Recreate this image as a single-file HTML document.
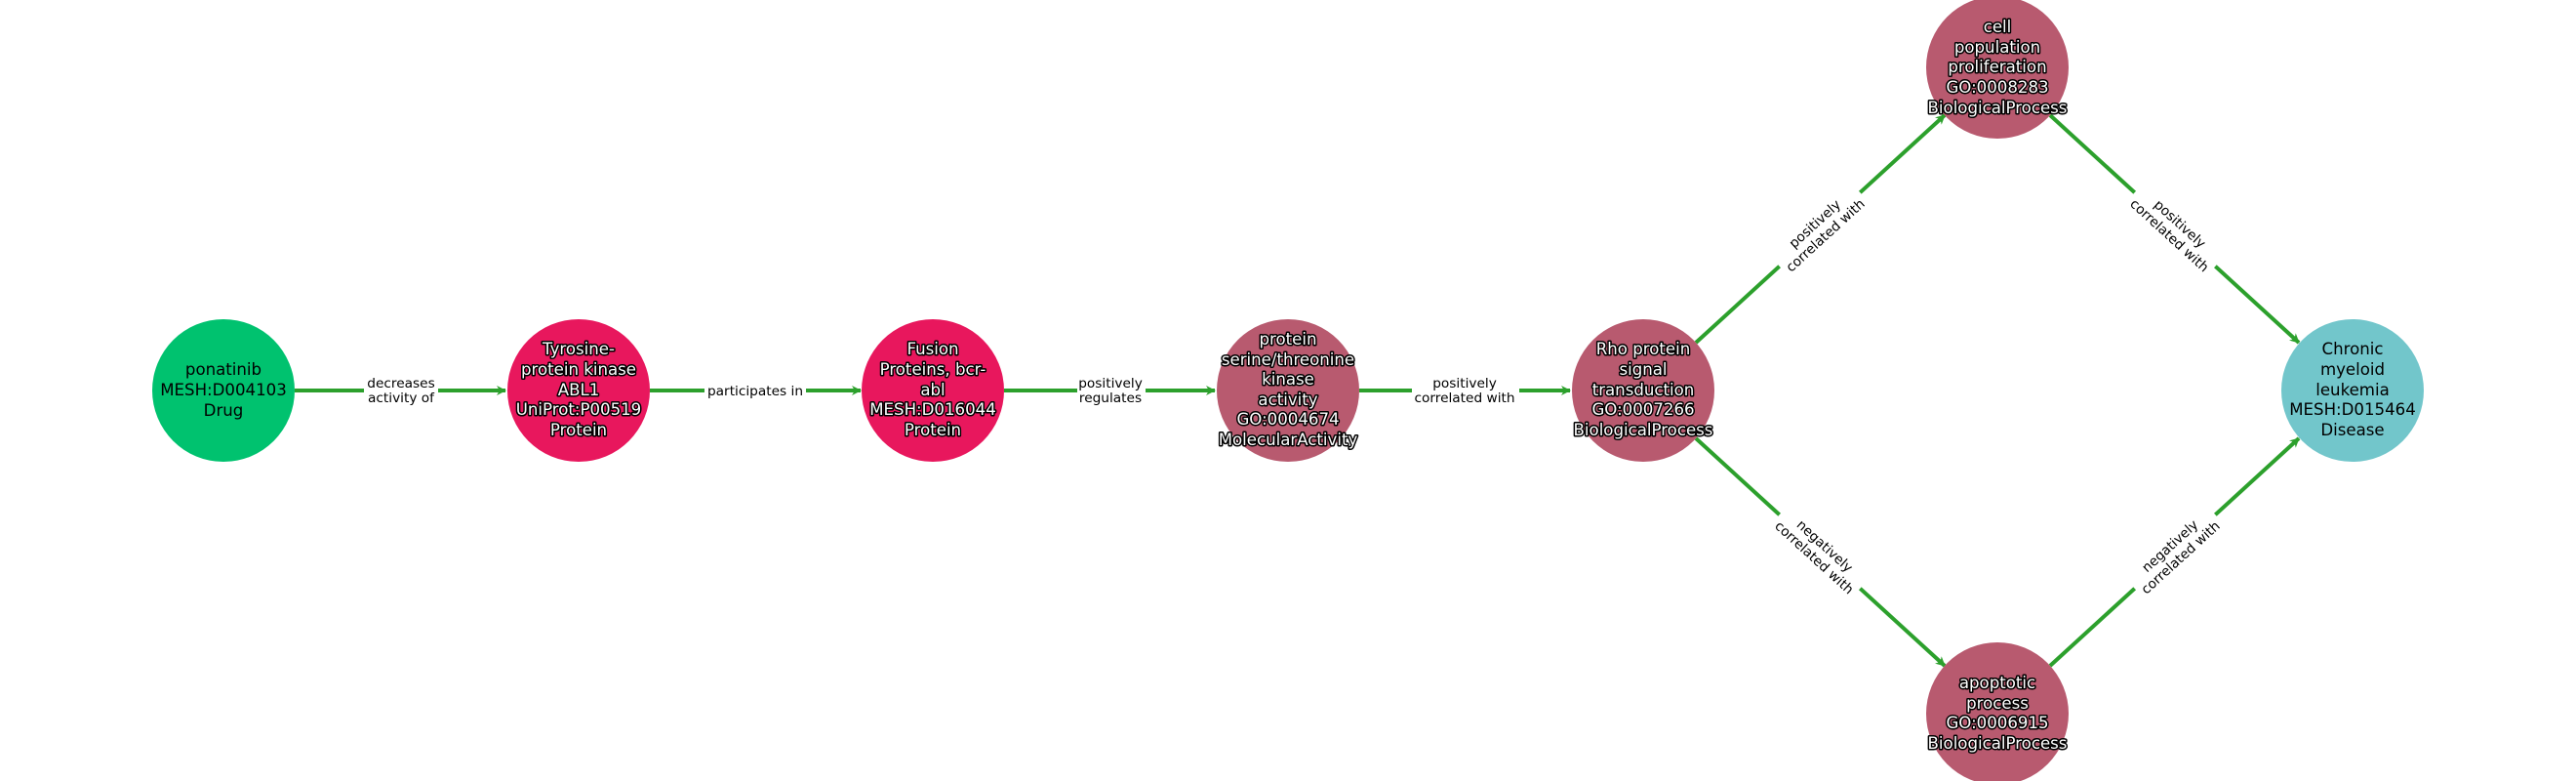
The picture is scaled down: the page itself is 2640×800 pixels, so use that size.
<!DOCTYPE html>
<html><head><meta charset="utf-8"><style>
html,body{margin:0;padding:0;background:#fff;width:2640px;height:800px;overflow:hidden}
svg text{font-family:"DejaVu Sans","Liberation Sans",sans-serif}
.n{font-size:16.6px;text-anchor:middle}
.w{fill:#fff;stroke:#000;stroke-width:3px;paint-order:stroke;stroke-linejoin:round}
.b{fill:#000}
.e{font-size:13.7px;text-anchor:middle;fill:#000}
</style></head><body>
<svg width="2640" height="800" viewBox="0 0 2640 800" xmlns="http://www.w3.org/2000/svg">
<defs><marker id="a" markerWidth="10" markerHeight="10" refX="9" refY="5" orient="auto" markerUnits="userSpaceOnUse"><path d="M0,0 L10,5 L0,10 L3,5 Z" fill="#2ca02c"/></marker></defs>
<g stroke="#2ca02c" stroke-width="4" fill="none" marker-end="url(#a)">
<line x1="302" y1="400" x2="518" y2="400"/>
<line x1="666" y1="400" x2="882" y2="400"/>
<line x1="1029" y1="400" x2="1245" y2="400"/>
<line x1="1393" y1="400" x2="1609" y2="400"/>
<line x1="1738" y1="351" x2="1993" y2="118"/>
<line x1="2101" y1="118" x2="2356" y2="351"/>
<line x1="1738" y1="449" x2="1993" y2="682"/>
<line x1="2101" y1="682" x2="2356" y2="449"/>
</g>
<g fill="#fff">
<rect x="373" y="380" width="76" height="40"/>
<rect x="722" y="388" width="104" height="24"/>
<rect x="1104" y="380" width="70" height="40"/>
<rect x="1447" y="380" width="110" height="40"/>
<g transform="translate(1865,235) rotate(-42.3)"><rect x="-56" y="-20" width="112" height="40"/></g>
<g transform="translate(2229,235) rotate(42.3)"><rect x="-56" y="-20" width="112" height="40"/></g>
<g transform="translate(1865,565) rotate(42.3)"><rect x="-56" y="-20" width="112" height="40"/></g>
<g transform="translate(2229,565) rotate(-42.3)"><rect x="-56" y="-20" width="112" height="40"/></g>
</g>
<text class="e" x="411" y="397">decreases</text><text class="e" x="411" y="412">activity of</text>
<text class="e" x="774" y="405">participates in</text>
<text class="e" x="1138" y="397">positively</text><text class="e" x="1138" y="412">regulates</text>
<text class="e" x="1501" y="397">positively</text><text class="e" x="1501" y="412">correlated with</text>
<g transform="translate(1865,235) rotate(-42.3)"><text class="e" x="0" y="-3">positively</text><text class="e" x="0" y="13">correlated with</text></g>
<g transform="translate(2229,235) rotate(42.3)"><text class="e" x="0" y="-3">positively</text><text class="e" x="0" y="13">correlated with</text></g>
<g transform="translate(1865,565) rotate(42.3)"><text class="e" x="0" y="-3">negatively</text><text class="e" x="0" y="13">correlated with</text></g>
<g transform="translate(2229,565) rotate(-42.3)"><text class="e" x="0" y="-3">negatively</text><text class="e" x="0" y="13">correlated with</text></g>
<circle cx="229" cy="400" r="73" fill="#00c26f"/>
<circle cx="593" cy="400" r="73" fill="#e8175d"/>
<circle cx="956" cy="400" r="73" fill="#e8175d"/>
<circle cx="1320" cy="400" r="73" fill="#b85a6f"/>
<circle cx="1684" cy="400" r="73" fill="#b85a6f"/>
<circle cx="2047" cy="69" r="73" fill="#b85a6f"/>
<circle cx="2047" cy="731" r="73" fill="#b85a6f"/>
<circle cx="2411" cy="400" r="73" fill="#72c6cb"/>
<g class="n b"><text x="229" y="384">ponatinib</text><text x="229" y="405">MESH:D004103</text><text x="229" y="426">Drug</text></g>
<g class="n w"><text x="593" y="363">Tyrosine-</text><text x="593" y="384">protein kinase</text><text x="593" y="405">ABL1</text><text x="593" y="425">UniProt:P00519</text><text x="593" y="446">Protein</text></g>
<g class="n w"><text x="956" y="363">Fusion</text><text x="956" y="384">Proteins, bcr-</text><text x="956" y="405">abl</text><text x="956" y="425">MESH:D016044</text><text x="956" y="446">Protein</text></g>
<g class="n w"><text x="1320" y="353">protein</text><text x="1320" y="374">serine/threonine</text><text x="1320" y="394">kinase</text><text x="1320" y="415">activity</text><text x="1320" y="435">GO:0004674</text><text x="1320" y="456">MolecularActivity</text></g>
<g class="n w"><text x="1684" y="363">Rho protein</text><text x="1684" y="384">signal</text><text x="1684" y="405">transduction</text><text x="1684" y="425">GO:0007266</text><text x="1684" y="446">BiologicalProcess</text></g>
<g class="n w"><text x="2047" y="33">cell</text><text x="2047" y="54">population</text><text x="2047" y="74">proliferation</text><text x="2047" y="95">GO:0008283</text><text x="2047" y="116">BiologicalProcess</text></g>
<g class="n w"><text x="2047" y="705">apoptotic</text><text x="2047" y="726">process</text><text x="2047" y="746">GO:0006915</text><text x="2047" y="767">BiologicalProcess</text></g>
<g class="n b"><text x="2411" y="363">Chronic</text><text x="2411" y="384">myeloid</text><text x="2411" y="405">leukemia</text><text x="2411" y="425">MESH:D015464</text><text x="2411" y="446">Disease</text></g>
</svg>
</body></html>
